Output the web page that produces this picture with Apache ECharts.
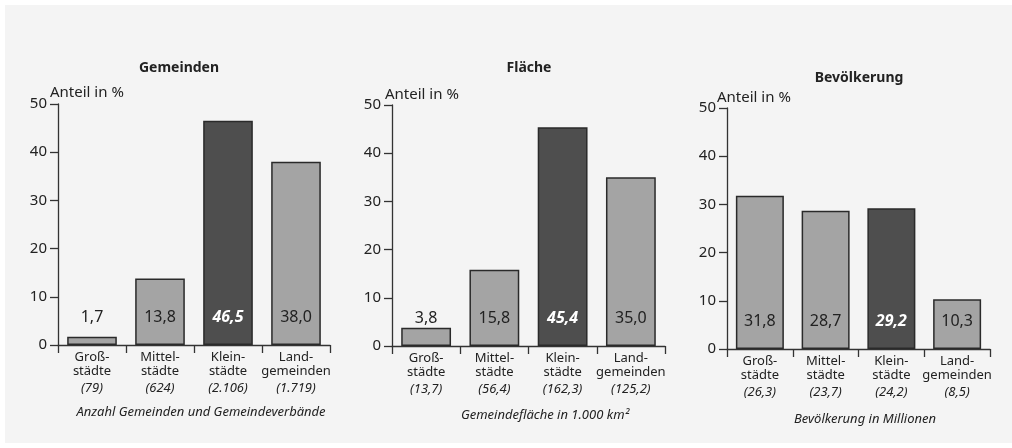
<!DOCTYPE html>
<html>
<head>
<meta charset="utf-8">
<script src="https://cdn.jsdelivr.net/npm/echarts@6/dist/echarts.min.js"></script>
<style>
html,body{margin:0;padding:0;background:#ffffff;}
#chart{width:1012px;height:448px;}
</style>
</head>
<body>
<div id="chart"></div>
<script>
// ---- data ----
var categories = ['Groß-\nstädte', 'Mittel-\nstädte', 'Klein-\nstädte', 'Land-\ngemeinden'];
var panelTitles = ['Gemeinden', 'Fläche', 'Bevölkerung'];
var footnotes = ['Anzahl Gemeinden und Gemeindeverbände', 'Gemeindefläche in 1.000 km²', 'Bevölkerung in Millionen'];
var countsGemeinden = ['79', '624', '2.106', '1.719'];
var countsFlaeche = ['13,7', '56,4', '162,3', '125,2'];
var countsBevoelkerung = ['26,3', '23,7', '24,2', '8,5'];
var shareGemeinden = [1.7, 13.8, 46.5, 38.0];
var shareFlaeche = [3.8, 15.8, 45.4, 35.0];
var shareBevoelkerung = [31.8, 28.7, 29.2, 10.3];
var yTicks = [0, 10, 20, 30, 40, 50];
var yAxisName = 'Anteil in %';
var highlightIndex = 2;

var counts = [countsGemeinden, countsFlaeche, countsBevoelkerung];
var shares = [shareGemeinden, shareFlaeche, shareBevoelkerung];

// ---- layout ----
var FONT = '"Noto Sans", "DejaVu Sans", sans-serif';
var TXT = '#222222';
var grids = [
  {left: 58, top: 104, width: 272, height: 241},
  {left: 392, top: 105, width: 273, height: 241},
  {left: 727, top: 108, width: 263, height: 241}
];
var titlePos = [
  {x: 179, y: 61}, {x: 529, y: 61}, {x: 859, y: 71}
];
var namePos = [
  {x: 50, y: 85}, {x: 385, y: 87}, {x: 717, y: 90}
];
var footPos = [
  {x: 201, y: 406}, {x: 545, y: 409}, {x: 865, y: 413}
];

var titles = [];
var xAxes = [], yAxes = [], series = [];
for (var p = 0; p < 3; p++) {
  titles.push({
    text: panelTitles[p], left: titlePos[p].x, top: titlePos[p].y, textAlign: 'center', padding: 0,
    textStyle: {fontFamily: FONT, fontSize: 14, fontWeight: 'bold', color: TXT}
  });
  titles.push({
    text: yAxisName, left: namePos[p].x, top: namePos[p].y, padding: 0,
    textStyle: {fontFamily: FONT, fontSize: 15, fontWeight: 'normal', color: TXT}
  });
  titles.push({
    text: footnotes[p], left: footPos[p].x, top: footPos[p].y, textAlign: 'center', padding: 0,
    textStyle: {fontFamily: FONT, fontSize: 13, fontStyle: 'italic', fontWeight: 'normal', color: TXT}
  });
  (function (p) {
    xAxes.push({
      type: 'category', gridIndex: p, data: categories,
      axisLine: {lineStyle: {color: '#333', width: 1.3}},
      axisTick: {show: true, length: 8, lineStyle: {color: '#333', width: 1.3}},
      axisLabel: {
        margin: 5, interval: 0,
        formatter: function (v, i) {
          var parts = v.split('\n');
          return '{a|' + parts[0] + '}\n{a|' + parts[1] + '}\n{b|(' + counts[p][i] + ')}';
        },
        rich: {
          a: {fontFamily: FONT, fontSize: 13, color: TXT, lineHeight: 14},
          b: {fontFamily: FONT, fontSize: 13, fontStyle: 'italic', color: TXT, lineHeight: 21}
        }
      }
    });
  })(p);
  yAxes.push({
    type: 'value', gridIndex: p, min: yTicks[0], max: yTicks[yTicks.length - 1], interval: 10,
    axisLine: {show: true, lineStyle: {color: '#333', width: 1.3}},
    axisTick: {show: true, length: 8, lineStyle: {color: '#333', width: 1.3}},
    splitLine: {show: false},
    axisLabel: {fontFamily: FONT, fontSize: 15, color: TXT, margin: 11}
  });
  series.push({
    type: 'bar', xAxisIndex: p, yAxisIndex: p, barCategoryGap: '27%',
    data: shares[p].map(function (v, i) {
      var hi = i === highlightIndex;
      return {
        value: v,
        itemStyle: {color: hi ? '#4e4e4e' : '#a4a4a4', borderColor: '#2a2a2a', borderWidth: 1.5},
        label: hi ? {color: '#ffffff', fontStyle: 'italic', fontWeight: 'bold'} : {}
      };
    }),
    label: {
      show: true, position: 'insideBottom', distance: 20,
      fontFamily: FONT, fontSize: 16, color: TXT,
      formatter: function (d) { return d.value.toFixed(1).replace('.', ','); }
    }
  });
}

var chart = echarts.init(document.getElementById('chart'), null, {renderer: 'canvas'});
chart.setOption({
  animation: false,
  backgroundColor: '#ffffff',
  graphic: [{type: 'rect', shape: {x: 5, y: 5, width: 1007, height: 438}, style: {fill: '#f4f4f4'}, z: -10, silent: true}],
  title: titles,
  grid: grids,
  xAxis: xAxes,
  yAxis: yAxes,
  series: series
});
</script>
</body>
</html>
